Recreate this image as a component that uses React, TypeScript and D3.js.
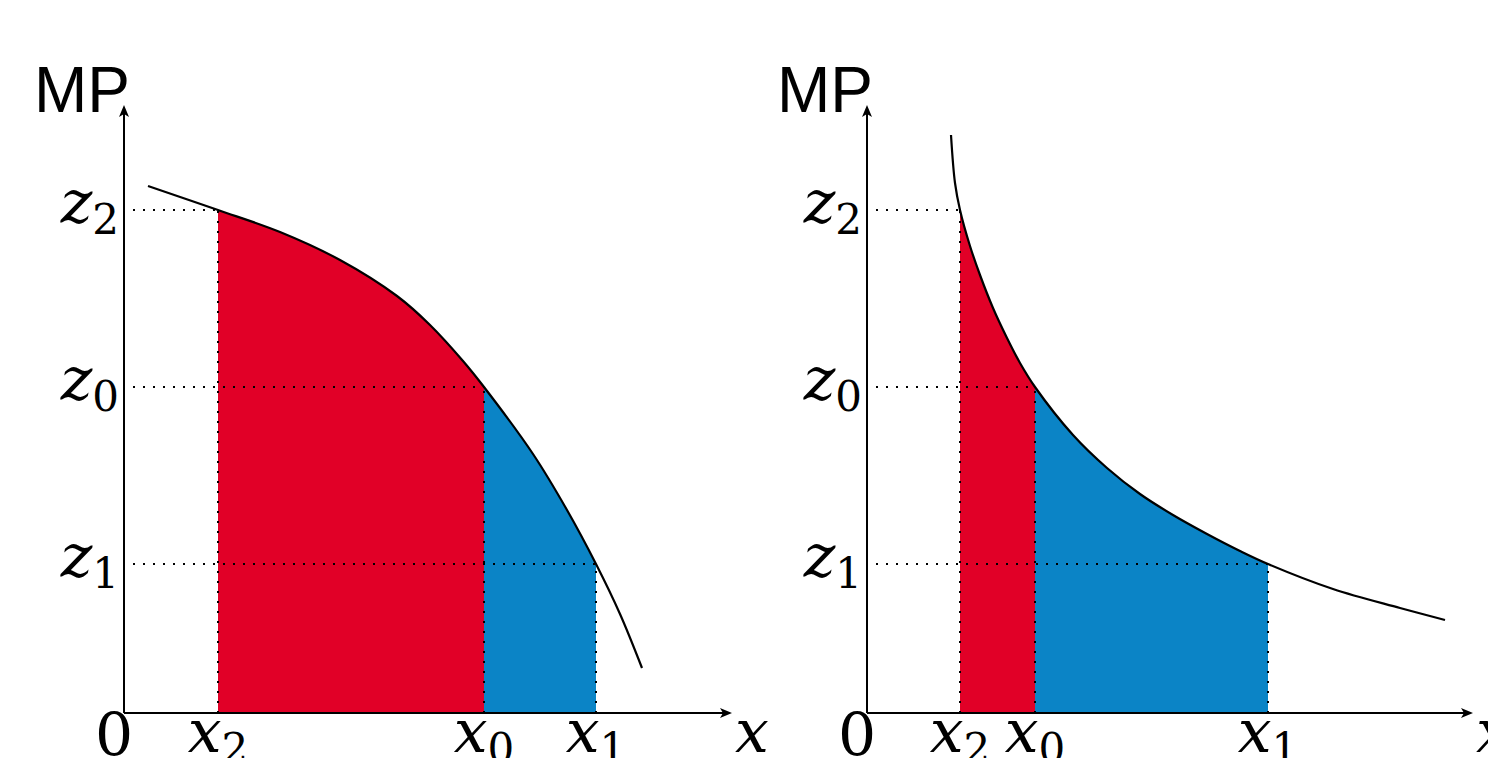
import React from 'react';
import * as d3 from 'd3';

// curve samples (x, MP)
const leftCurve: [number, number][] = [
  [0.24, 5.27], [0.94, 5.03], [1.56, 4.81], [2.16, 4.53], [2.73, 4.17],
  [3.06, 3.88], [3.39, 3.52], [3.6, 3.26], [4.09, 2.59], [4.43, 2.03],
  [4.72, 1.49], [4.96, 0.99], [5.18, 0.45],
];
const rightCurve: [number, number][] = [
  [0.84, 5.78], [0.88, 5.3], [0.93, 5.03], [1.03, 4.67], [1.13, 4.38],
  [1.26, 4.05], [1.4, 3.75], [1.53, 3.5], [1.68, 3.26], [2.06, 2.78],
  [2.4, 2.45], [2.73, 2.19], [3.06, 1.98], [3.4, 1.79], [3.73, 1.62],
  [4.01, 1.49], [4.66, 1.24], [5.33, 1.05], [5.78, 0.93],
];

// marked points, in order x2/z2, x0/z0, x1/z1
const subs = ['2', '0', '1'];
const leftXs = [0.94, 3.6, 4.72];
const leftZs = [5.03, 3.26, 1.49];
const rightXs = [0.93, 1.68, 4.01];
const rightZs = [5.03, 3.26, 1.49];

const RED = '#e10027';
const BLUE = '#0b84c6';
const serif = "'DejaVu Serif', 'Liberation Serif', serif";

function Panel({ id, x0, x1, xMax, curve, xs, zs }: any) {
  const x = d3.scaleLinear().domain([0, xMax]).range([x0, x1]);
  const y = d3.scaleLinear().domain([0, 6.08]).range([713, 105]);
  const line = d3.line<[number, number]>().x(d => x(d[0])).y(d => y(d[1])).curve(d3.curveCatmullRom.alpha(0.5));
  const area = d3.area<[number, number]>().x(d => x(d[0])).y0(y(0)).y1(d => y(d[1])).curve(d3.curveCatmullRom.alpha(0.5));
  const bands = [
    { from: xs[0], to: xs[1], color: RED },
    { from: xs[1], to: xs[2], color: BLUE },
  ];
  const ox = x(0), oy = y(0);
  return (
    <g>
      <defs>
        {bands.map((b, i) => (
          <clipPath key={i} id={`${id}-clip${i}`}>
            <rect x={x(b.from)} y={0} width={x(b.to) - x(b.from)} height={oy} />
          </clipPath>
        ))}
      </defs>
      {bands.map((b, i) => (
        <path key={i} d={area(curve) || ''} fill={b.color} clipPath={`url(#${id}-clip${i})`} />
      ))}
      {xs.map((xv: number, i: number) => (
        <g key={i} stroke="#000" strokeWidth={2} strokeDasharray="2 8" fill="none">
          <line x1={ox + 9} x2={x(xv)} y1={y(zs[i])} y2={y(zs[i])} />
          <line x1={x(xv)} x2={x(xv)} y1={oy} y2={y(zs[i])} />
        </g>
      ))}
      <path d={line(curve) || ''} fill="none" stroke="#000" strokeWidth={2.2} />
      {/* axes */}
      <line x1={ox} x2={ox} y1={oy} y2={y(6.08) + 4} stroke="#000" strokeWidth={2} />
      <line x1={ox} x2={x(xMax) - 4} y1={oy} y2={oy} stroke="#000" strokeWidth={2} />
      <path d={`M${ox},${y(6.08)} l-5,12 l5,-3 l5,3 z`} fill="#000" />
      <path d={`M${x(xMax)},${oy} l-12,-5 l3,5 l-3,5 z`} fill="#000" />
      <text x={ox + 6} y={112} textAnchor="end" fontSize={64} style={{ fontFamily: "'Liberation Sans', Arial, sans-serif" }}>MP</text>
      {zs.map((zv: number, i: number) => (
        <text key={i} x={ox - 5} y={y(zv) + 13} textAnchor="end" fontSize={60} style={{ fontFamily: serif }}>
          <tspan fontStyle="italic">z</tspan>
          <tspan dy={11} fontSize={42}>{subs[i]}</tspan>
        </text>
      ))}
      {xs.map((xv: number, i: number) => (
        <text key={i} x={x(xv)} y={752} textAnchor="middle" fontSize={60} style={{ fontFamily: serif }}>
          <tspan fontStyle="italic">x</tspan>
          <tspan dy={11} fontSize={42}>{subs[i]}</tspan>
        </text>
      ))}
      <text x={ox - 10} y={756} textAnchor="middle" fontSize={60} style={{ fontFamily: serif }}>0</text>
      <text x={x(xMax) + 3} y={752} fontSize={60} fontStyle="italic" style={{ fontFamily: serif }}>x</text>
    </g>
  );
}

export default function App() {
  return (
    <svg width={1488} height={758} style={{ position: 'absolute', left: 0, top: 0, background: '#fff' }}>
      <rect width={1488} height={758} fill="#fff" />
      <Panel id="l" x0={124} x1={732} xMax={6.08} curve={leftCurve} xs={leftXs} zs={leftZs} />
      <Panel id="r" x0={867} x1={1473} xMax={6.06} curve={rightCurve} xs={rightXs} zs={rightZs} />
    </svg>
  );
}
